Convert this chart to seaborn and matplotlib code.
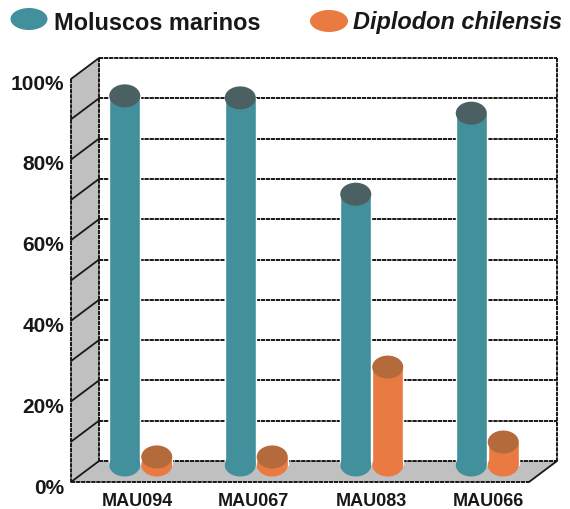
# stacked wall + cylinder bars, percent of shell material per site
import pandas as pd
import matplotlib
matplotlib.use('Agg')
from matplotlib import pyplot as plt
from matplotlib.patches import Ellipse, Polygon
import seaborn as sns

############ --------------- DATA --------------- ###########
sites = ['MAU094', 'MAU067', 'MAU083', 'MAU066']
marinos = [91.6, 91.1, 67.2, 87.3]
diplodon = [2.0, 2.0, 24.3, 5.7]
pct_labels = ['0%', '20%', '40%', '60%', '80%', '100%']

df = pd.DataFrame({'site': sites * 2,
                   'pct': marinos + diplodon,
                   'group': ['Moluscos marinos'] * 4 + ['Diplodon chilensis'] * 4})

############ --------------- COLORS --------------- ###########
teal = '#42909C'
teal_top = '#4B6062'
orange = '#E97A41'
orange_top = '#B46A3B'
wall = '#C0C0C0'
ink = '#1A1718'
dash = (0, (2.2, 0.4))

sns.set_style('white')
plt.rcParams['font.family'] = ['Liberation Sans', 'DejaVu Sans']

W, H = 570, 510
fig = plt.figure(figsize=(W / 100, H / 100), dpi=100)

############ --------------- BACKGROUND BOX (pixel coords) --------------- ###########
bg = fig.add_axes([0, 0, 1, 1])
bg.set_xlim(0, W)
bg.set_ylim(H, 0)
bg.axis('off')

step = 40.3
bg.add_patch(Polygon([(71, 80), (99, 59), (99, 462), (71, 483)], fc=wall, ec='none'))
bg.add_patch(Polygon([(71, 483), (529, 483), (557, 462), (99, 462)], fc=wall, ec='none'))

for i in range(11):
    y = 462 - step * i
    bg.plot([99, 557], [y, y], color=ink, lw=1.4, ls=dash)
    bg.plot([71, 99], [y + 21, y], color=ink, lw=1.3)
bg.plot([529, 557], [483, 462], color=ink, lw=1.3)
bg.plot([71, 529], [483, 483], color=ink, lw=1.4, ls=dash)
bg.plot([71, 71], [80, 483], color=ink, lw=1.4, ls=dash)
bg.plot([99, 99], [59, 462], color=ink, lw=1.4, ls=dash)
bg.plot([557, 557], [59, 462], color=ink, lw=1.4, ls=dash)

# axis labels
for i, lab in enumerate(pct_labels):
    bg.text(64, 489 - 81 * i, lab, ha='right', va='center', fontsize=15,
            fontweight='bold', color=ink)
for x, lab in zip([137, 253, 371, 488], sites):
    bg.text(x, 502, lab, ha='center', va='center', fontsize=13,
            fontweight='bold', color=ink)

# legend
bg.add_patch(Ellipse((29, 20), 37, 22, fc=teal, ec='none'))
bg.text(54, 23, 'Moluscos marinos', ha='left', va='center', fontsize=16.9,
        fontweight='bold', color=ink)
bg.add_patch(Ellipse((329, 22), 38, 22, fc=orange, ec='none'))
bg.text(353, 23, 'Diplodon chilensis', ha='left', va='center', fontsize=16.9,
        fontweight='bold', style='italic', color=ink)

############ --------------- CYLINDERS --------------- ###########
ax = fig.add_axes([0, 0, 1, 1])
sns.barplot(data=df, x='site', y='pct', hue='group', order=sites,
            palette=[teal, orange], width=0.554, gap=0.03, saturation=1,
            legend=False, ax=ax)
ax.set_xlim(-140.75 / 115.5, (W - 140.75) / 115.5)
ax.set_ylim(-(H - 466) / 4.03, 466 / 4.03)
ax.axis('off')
ax.patch.set_visible(False)

cap_h = 23 / 4.03
for cont, side, top in zip(ax.containers, [teal, orange], [teal_top, orange_top]):
    for bar in cont:
        xc = bar.get_x() + bar.get_width() / 2
        w = bar.get_width()
        ax.add_patch(Ellipse((xc, 0), w, cap_h, fc=side, ec='none', zorder=bar.get_zorder()))
        ax.add_patch(Ellipse((xc, bar.get_height()), w, cap_h, fc=top, ec='none',
                             zorder=bar.get_zorder() + 1))

fig.savefig('out.png', dpi=100)
